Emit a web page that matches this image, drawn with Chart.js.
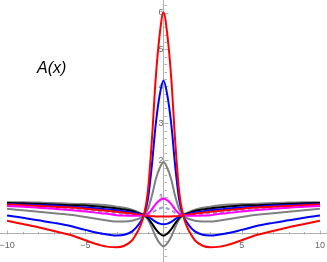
<!DOCTYPE html>
<html><head><meta charset="utf-8">
<script src="https://cdn.jsdelivr.net/npm/chart.js@4"></script>
<style>
html,body{margin:0;padding:0;background:#fff;}
#wrap{position:relative;width:327px;height:262px;overflow:hidden;}
#lab{position:absolute;left:37px;top:59px;font:italic 16px "Liberation Sans",Arial,sans-serif;color:#000;white-space:nowrap;}
</style></head><body>
<div id="wrap"><canvas id="c" width="327" height="262"></canvas><div id="lab">A(x)</div></div>
<script>
const xValues = [-10,-9,-8,-7,-6,-5,-4,-3.5,-3,-2.5,-2,-1.75,-1.5,-1.25,-1,-0.75,-0.5,-0.25,0,0.25,0.5,0.75,1,1.25,1.5,1.75,2,2.5,3,3.5,4,5,6,7,8,9,10];
const redLarge  = [0.36,0.27,0.18,0.08,-0.02,-0.17,-0.31,-0.35,-0.36,-0.32,-0.17,-0.01,0.20,0.51,1.15,2.50,4.20,5.38,6.00,5.38,4.20,2.50,1.15,0.51,0.20,-0.01,-0.17,-0.32,-0.36,-0.35,-0.31,-0.17,-0.02,0.08,0.18,0.27,0.36];
const blueLarge = [0.50,0.44,0.37,0.30,0.22,0.11,0.01,-0.02,-0.04,-0.02,0.07,0.17,0.31,0.51,0.93,1.83,2.96,3.75,4.16,3.75,2.96,1.83,0.93,0.51,0.31,0.17,0.07,-0.02,-0.04,-0.02,0.01,0.11,0.22,0.30,0.37,0.44,0.50];
const grayLarge = [0.68,0.64,0.60,0.56,0.52,0.46,0.39,0.36,0.34,0.34,0.36,0.39,0.43,0.51,0.67,1.02,1.47,1.78,1.95,1.78,1.47,1.02,0.67,0.51,0.43,0.39,0.36,0.34,0.34,0.36,0.39,0.46,0.52,0.56,0.60,0.64,0.68];
const magenta   = [0.76,0.74,0.71,0.68,0.65,0.61,0.56,0.54,0.51,0.50,0.49,0.49,0.49,0.51,0.55,0.66,0.81,0.91,0.96,0.91,0.81,0.66,0.55,0.51,0.49,0.49,0.49,0.50,0.51,0.54,0.56,0.61,0.65,0.68,0.71,0.74,0.76];
const dashed    = [0.78,0.76,0.73,0.71,0.68,0.65,0.60,0.58,0.56,0.53,0.52,0.51,0.51,0.51,0.52,0.57,0.64,0.69,0.72,0.69,0.64,0.57,0.52,0.51,0.51,0.51,0.52,0.53,0.56,0.58,0.60,0.65,0.68,0.71,0.73,0.76,0.78];
const redFlat   = [0.795,0.78,0.76,0.74,0.715,0.685,0.645,0.625,0.60,0.575,0.55,0.535,0.52,0.51,0.49,0.48,0.475,0.47,0.47,0.47,0.475,0.48,0.49,0.51,0.52,0.535,0.55,0.575,0.60,0.625,0.645,0.685,0.715,0.74,0.76,0.78,0.795];
const blueSmall = [0.81,0.80,0.78,0.77,0.74,0.72,0.68,0.66,0.64,0.61,0.58,0.56,0.53,0.51,0.47,0.40,0.33,0.28,0.26,0.28,0.33,0.40,0.47,0.51,0.53,0.56,0.58,0.61,0.64,0.66,0.68,0.72,0.74,0.77,0.78,0.80,0.81];
const blackCurve= [0.84,0.83,0.82,0.80,0.78,0.77,0.74,0.72,0.69,0.66,0.62,0.59,0.55,0.51,0.43,0.29,0.13,0.01,-0.05,0.01,0.13,0.29,0.43,0.51,0.55,0.59,0.62,0.66,0.69,0.72,0.74,0.77,0.78,0.80,0.82,0.83,0.84];
const graySmall = [0.86,0.86,0.85,0.84,0.82,0.81,0.79,0.77,0.74,0.71,0.66,0.62,0.57,0.51,0.39,0.18,-0.07,-0.25,-0.34,-0.25,-0.07,0.18,0.39,0.51,0.57,0.62,0.66,0.71,0.74,0.77,0.79,0.81,0.82,0.84,0.85,0.86,0.86];
const xTickLabels = [-10,-5,5,10];
const yTickLabels = [1,2,3,4,5,6];

function pts(arr){ return xValues.map((x,i)=>({x:x,y:arr[i]})); }
function ds(arr,color,width,dash){
  return {data:pts(arr),borderColor:color,borderWidth:width,borderDash:dash||[],pointRadius:0,fill:false,cubicInterpolationMode:'monotone'};
}
const AX = '#b0b0b0';
const tickPlugin = {
  id:'mmaTicks',
  beforeDatasetsDraw(chart){
    const {ctx,scales:{x,y}} = chart;
    const x0 = Math.round(x.getPixelForValue(0))+0.5, y0 = Math.round(y.getPixelForValue(0))+0.5;
    ctx.save(); ctx.strokeStyle = AX; ctx.lineWidth = 1; ctx.beginPath();
    for(let v=-10; v<=10; v++){ if(v===0) continue;
      const px = Math.round(x.getPixelForValue(v))+0.5; const len = (v%5===0)?4:2.5;
      ctx.moveTo(px,y0); ctx.lineTo(px,y0-len); }
    for(let i=-3; i<=31; i++){ if(i===0) continue;
      const py = Math.round(y.getPixelForValue(i*0.2))+0.5; const len = (i%5===0)?4:2.5;
      ctx.moveTo(x0,py); ctx.lineTo(x0+len,py); }
    ctx.stroke(); ctx.restore();
  }
};
function zeroFit(s){ if(s.isHorizontal()) s.height=0; else s.width=0; s.paddingLeft=0; s.paddingRight=0; s.paddingTop=0; s.paddingBottom=0; }
const fmt = v => (v<0?'\u2212'+Math.abs(v):String(v));
new Chart(document.getElementById('c'),{
  type:'line',
  data:{datasets:[
    ds(redLarge,'#ff0000',2),
    ds(blueLarge,'#0000ff',2),
    ds(grayLarge,'#808080',2),
    ds(magenta,'#ff00ff',2),
    ds(redFlat,'#ff0000',2),
    ds(dashed,'#9a9ad8',2,[4,3]),
    ds(blueSmall,'#0000ff',2),
    ds(blackCurve,'#000000',2),
    ds(graySmall,'#808080',2)
  ]},
  options:{
    responsive:false, animation:false, devicePixelRatio:1,
    layout:{padding:0},
    plugins:{legend:{display:false},tooltip:{enabled:false}},
    scales:{
      x:{type:'linear',min:-10.45,max:10.45,position:{y:0},
        grid:{display:false,drawTicks:false,tickLength:0},
        border:{display:true,color:AX,width:1},
        afterFit:zeroFit,
        afterBuildTicks:s=>{s.ticks=xTickLabels.map(v=>({value:v}));},
        ticks:{autoSkip:false,maxRotation:0,padding:6,color:'#666',font:{family:'Liberation Sans',size:9},callback:fmt}},
      y:{type:'linear',min:-0.76,max:6.34,position:{x:0},
        grid:{display:false,drawTicks:false,tickLength:0},
        border:{display:true,color:AX,width:1},
        afterFit:zeroFit,
        afterBuildTicks:s=>{s.ticks=yTickLabels.map(v=>({value:v}));},
        ticks:{autoSkip:false,padding:3,color:'#666',font:{family:'Liberation Sans',size:9},callback:fmt}}
    }
  },
  plugins:[tickPlugin]
});
</script>
</body></html>
